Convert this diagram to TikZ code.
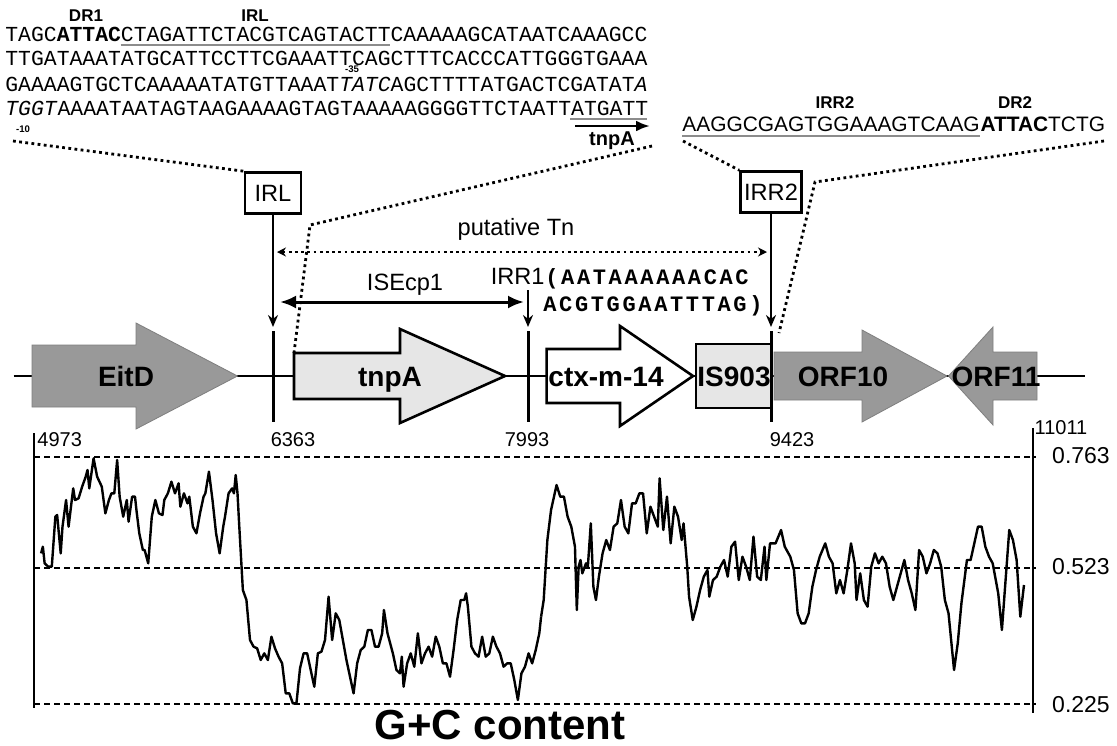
\documentclass[tikz,border=0pt]{standalone}
\usepackage{fontspec}
\setmainfont{Liberation Sans}
\newfontfamily\seqmono{Liberation Mono}
\newfontfamily\irrmono{Liberation Mono}[LetterSpace=12]
\usetikzlibrary{arrows.meta}
\definecolor{genedark}{HTML}{999999}
\definecolor{genedarkline}{HTML}{7F7F7F}
\definecolor{genelight}{HTML}{E6E6E6}
\definecolor{ulgray}{HTML}{8C8C8C}
\newcommand\fsz[1]{\fontsize{#1}{#1}\selectfont}

\begin{document}
\begin{tikzpicture}[x=0.5pt,y=-0.5pt,
  seqtext/.style={anchor=base west, inner sep=0pt, font=\seqmono\fsz{10.7}},
  sanseq/.style={anchor=base west, inner sep=0pt, font=\fsz{10.45}},
  irrseq/.style={anchor=base west, inner sep=0pt, font=\irrmono\bfseries\fsz{11}},
  tag/.style={inner sep=0pt, font=\bfseries\fsz{8.5}},
  tinytag/.style={inner sep=0pt, font=\bfseries\fsz{4.8}},
  plain/.style={inner sep=0pt, font=\fsz{11.8}},
  sitebox/.style={draw, line width=1.3pt, inner sep=0pt, minimum height=20.5pt, font=\fsz{11.8}},
  ul/.style={draw=ulgray, line width=1pt},
  dots/.style={line width=1.4pt, dash pattern=on 1.4pt off 1.7pt},
  seqarrow/.style={line width=1.4pt, -{Latex[length=7pt,width=5.5pt]}},
  downarrow/.style={line width=1.3pt, -{Stealth[length=6pt,width=5pt]}, shorten >=2pt},
  tnarrow/.style={line width=1.4pt, dash pattern=on 1.4pt off 1.7pt,
    {Stealth[length=4.5pt,width=4.5pt]}-{Stealth[length=4.5pt,width=4.5pt]}},
  isarrow/.style={line width=1.5pt, {Latex[length=8pt,width=6.5pt]}-{Latex[length=8pt,width=6.5pt]}},
  bar/.style={line width=1.5pt},
  darkgene/.style={fill=genedark, draw=genedarkline, line width=0.4pt},
  lightgene/.style={fill=genelight, draw=black, line width=1.3pt},
  whitegene/.style={fill=white, draw=black, line width=1.3pt},
  genelabel/.style={anchor=base, inner sep=0pt, font=\bfseries\fsz{14}},
  posnum/.style={inner sep=0pt, font=\fsz{10}},
  valnum/.style={inner sep=0pt, font=\fsz{11.5}},
  guide/.style={line width=0.8pt, dash pattern=on 3pt off 2pt},
  axis/.style={line width=1pt},
  gc/.style={line width=1.2pt, line join=round}
]
\fill[white] (0,0) rectangle (1117,745);
\useasboundingbox (0,0) rectangle (1117,745);

% ---------- upstream sequence of ISEcp1 ----------
\node[tag] (dr1) at (86,16) {DR1};
\node[tag] (irllab) at (255,16) {IRL};
\node[seqtext] (s1) at (5,41) {TAGC\textbf{ATTAC}CTAGATTCTACGTCAGTACTTCAAAAAGCATAATCAAAGCC};
\node[seqtext] (s2) at (5,65) {TTGATAAATATGCATTCCTTCGAAATTCAGCTTTCACCCATTGGGTGAAA};
\node[seqtext] (s3) at (5,91) {GAAAAGTGCTCAAAAATATGTTAAAT\textit{TATC}AGCTTTTATGACTCGATAT\textit{A}};
\node[seqtext] (s4) at (5,115) {\textit{TGGT}AAAATAATAGTAAGAAAAGTAGTAAAAAGGGGTTCTAATTATGATT};
\draw[ul] (120.6,45) -- (390.2,45);
\draw[ul] (570,119) -- (647,119);
\node[tinytag] (m35) at (352,69.5) {-35};
\node[tinytag] (m10) at (23,129) {-10};
\coordinate (tnpS) at (575,126);
\coordinate (tnpE) at (650,126);
\draw[seqarrow] (tnpS) -- (tnpE);
\node[inner sep=0pt, font=\bfseries\fsz{10}] (tnplab) at (612,141) {tnpA};

% ---------- right end sequence ----------
\node[tag] (irr2lab) at (835,103) {IRR2};
\node[tag] (dr2lab) at (1015,103) {DR2};
\node[sanseq] (irr2seq) at (682,131) {AAGGCGAGTGGAAAGTCAAG};
\node[sanseq] (dr2seq) at (irr2seq.base east) {\textbf{ATTAC}TCTG};
\draw[ul] ([yshift=-2pt]irr2seq.south west) -- ([yshift=-2pt]irr2seq.south east);

% ---------- inverted repeat boxes ----------
\node[sitebox, minimum width=28pt] (irl) at (273,193) {IRL};
\node[sitebox, minimum width=30.5pt] (irr2) at (771,192) {IRR2};

% bars on the map
\coordinate (b1t) at (273,331); \coordinate (b1b) at (273,422);
\coordinate (b2t) at (528,331); \coordinate (b2b) at (528,422);
\coordinate (b3t) at (771,331); \coordinate (b3b) at (771,422);

% dotted zoom lines
\coordinate (dA) at (13,141);
\draw[dots] (dA) -- (irl.north west);
\coordinate (dB1) at (652,146);
\coordinate (dB2) at (310,225);
\coordinate (tnpnw) at (294,353);
\draw[dots] (dB1) -- (dB2) -- (tnpnw);
\coordinate (dC) at (683,141);
\draw[dots] (dC) -- (irr2.north west);
\coordinate (dD1) at (1104,141);
\coordinate (dD2) at (815,182);
\coordinate (dD3) at (779,333);
\draw[dots] (dD1) -- (dD2) -- (dD3);

% putative transposon and ISEcp1 extents
\node[plain] (tnlab) at (516,229) {putative Tn};
\coordinate (tnL) at (277,252);
\coordinate (tnR) at (767,252);
\draw[tnarrow] (tnL) -- (tnR);
\node[plain] (islab) at (405,285) {ISEcp1};
\coordinate (isL) at (280,302);
\coordinate (isR) at (524,302);
\draw[isarrow] (isL) -- (isR);

\node[plain, anchor=base east] (irr1lab) at (545,284) {IRR1};
\node[irrseq] (irr1a) at (545,284) {(AATAAAAAACAC};
\node[irrseq] (irr1b) at (543,311) {ACGTGGAATTTAG)};
\coordinate (irr1s) at (528,290);

\draw[downarrow] (irl.south) -- (b1t);
\draw[downarrow] (irr1s) -- (b2t);
\draw[downarrow] (irr2.south) -- (b3t);

% ---------- genetic map ----------
\coordinate (mapL) at (13.6,376);
\coordinate (mapR) at (1085,376);
\draw[line width=1.3pt] (mapL) -- (mapR);

\draw[darkgene] (32,345) -- (136,345) -- (136,323) -- (237.5,376) -- (136,429) -- (136,407) -- (32,407) -- cycle;
\draw[lightgene] (294,353) -- (400,353) -- (400,329) -- (505,376) -- (400,423) -- (400,399) -- (294,399) -- cycle;
\draw[whitegene] (546.6,349) -- (620,349) -- (620,326) -- (693,376) -- (620,426) -- (620,403) -- (546.6,403) -- cycle;
\draw[lightgene] (696,344) rectangle (771,408);
\draw[darkgene] (774,352) -- (862,352) -- (862,330) -- (947,376) -- (862,422) -- (862,400) -- (774,400) -- cycle;
\draw[darkgene] (948.5,376) -- (993,327) -- (993,352) -- (1037,352) -- (1037,400) -- (993,400) -- (993,425) -- cycle;

\draw[bar] (b1t) -- (b1b);
\draw[bar] (b2t) -- (b2b);
\draw[bar] (b3t) -- (b3b);

\node[genelabel] (eitd) at (126,386) {EitD};
\node[genelabel] (tnpa) at (390,386) {tnpA};
\node[genelabel] (ctx) at (606,386) {ctx-m-14};
\node[genelabel] (is903) at (734,386) {IS903};
\node[genelabel] (orf10) at (843,386) {ORF10};
\node[genelabel] (orf11) at (996,386) {ORF11};

\node[posnum, anchor=west] (p4973) at (37,440) {4973};
\node[posnum] (p6363) at (293,440) {6363};
\node[posnum] (p7993) at (527,440) {7993};
\node[posnum] (p9423) at (792,440) {9423};
\node[posnum] (p11011) at (1061,428) {11011};

% ---------- G+C content plot ----------
\draw[axis] (34,433) -- (34,708);
\draw[axis] (1033,428) -- (1033,713);
\draw[guide] (34,457) -- (1036,457);
\draw[guide] (34,568) -- (1036,568);
\draw[guide] (34,704) -- (1036,704);
\node[valnum] (v763) at (1081,456) {0.763};
\node[valnum] (v523) at (1081,567) {0.523};
\node[valnum] (v225) at (1081,705) {0.225};

\begin{scope}[xshift=0pt, yshift=-200pt, x=0.178571pt, y=-0.166667pt]
\draw[gc] plot coordinates {(115,460) (120,440) (125,490) (135,500) (145,500) (155,350) (160,345) (170,460) (175,380) (185,300) (192,380) (205,265) (210,300) (220,295) (230,260) (240,230) (245,210) (250,265) (262,175) (272,230) (285,260) (295,340) (305,300) (312,280) (320,280) (328,180) (335,290) (345,350) (355,300) (360,365) (370,290) (378,290) (382,330) (390,400) (400,450) (405,450) (415,490) (425,350) (435,300) (445,340) (455,345) (460,300) (470,280) (480,245) (490,280) (500,250) (505,320) (515,280) (525,310) (530,290) (540,380) (550,400) (560,340) (570,290) (575,280) (585,215) (595,300) (605,400) (615,460) (625,380) (630,350) (640,280) (650,265) (655,280) (660,225) (665,280) (670,380) (680,570) (690,600) (700,720) (710,740) (720,745) (730,780) (740,760) (750,780) (760,710) (770,745) (780,770) (790,790) (800,880) (810,880) (820,910) (830,910) (840,805) (850,760) (860,760) (870,810) (880,860) (890,760) (900,755) (910,720) (920,590) (930,720) (940,640) (950,660) (960,720) (970,780) (980,830) (990,880) (1000,790) (1010,750) (1020,740) (1030,690) (1040,690) (1050,740) (1060,740) (1070,700) (1075,630) (1085,700) (1095,740) (1100,760) (1110,810) (1120,820) (1125,770) (1130,860) (1140,790) (1150,760) (1160,800) (1170,700) (1180,790) (1190,760) (1200,740) (1210,770) (1220,710) (1230,740) (1240,790) (1250,790) (1260,830) (1270,750) (1280,660) (1290,600) (1300,600) (1305,580) (1310,620) (1320,740) (1330,760) (1340,770) (1350,710) (1360,770) (1370,760) (1380,710) (1390,740) (1400,760) (1410,800) (1420,790) (1430,790) (1440,840) (1450,900) (1460,820) (1470,800) (1480,760) (1490,790) (1500,750) (1510,700) (1515,650)};
\end{scope}
\begin{scope}[xshift=270pt, yshift=-200pt, x=0.184026pt, y=-0.166667pt]
\draw[gc] plot coordinates {(3,650) (10,600) (20,420) (30,330) (45,255) (55,290) (65,290) (75,350) (85,380) (95,440) (100,630) (105,500) (110,480) (115,520) (125,490) (130,500) (138,370) (145,560) (152,600) (160,530) (170,460) (180,420) (190,450) (200,380) (210,370) (220,300) (230,380) (240,400) (250,310) (260,310) (270,280) (280,280) (290,400) (300,320) (310,350) (320,380) (325,235) (335,390) (345,290) (355,430) (365,320) (375,350) (385,420) (390,370) (400,500) (405,590) (415,660) (425,620) (435,570) (445,530) (455,510) (460,590) (470,540) (480,530) (490,500) (500,480) (510,530) (520,440) (530,425) (540,540) (550,470) (560,500) (570,540) (580,410) (590,530) (600,540) (610,440) (615,540) (625,430) (640,430) (655,390) (665,440) (680,470) (690,510) (700,640) (710,670) (720,670) (730,640) (740,560) (750,510) (760,470) (775,430) (785,470) (795,490) (805,580) (815,540) (825,580) (835,510) (845,430) (855,490) (860,600) (870,520) (880,600) (890,620) (900,500) (910,460) (920,490) (930,470) (940,490) (950,560) (960,600) (970,560) (980,520) (990,480) (1000,540) (1010,580) (1020,630) (1030,450) (1040,470) (1050,520) (1060,490) (1070,450) (1080,460) (1090,500) (1100,600) (1110,640) (1125,810) (1135,730) (1145,610) (1160,480) (1170,480) (1180,430) (1190,380) (1200,380) (1210,440) (1220,470) (1230,490) (1245,580) (1255,690) (1265,540) (1275,390) (1285,420) (1295,480) (1305,650) (1315,555)};
\end{scope}

\node[anchor=base, inner sep=0pt, font=\bfseries\fsz{21}] (gclab) at (500,739) {G+C content};
\end{tikzpicture}
\end{document}
